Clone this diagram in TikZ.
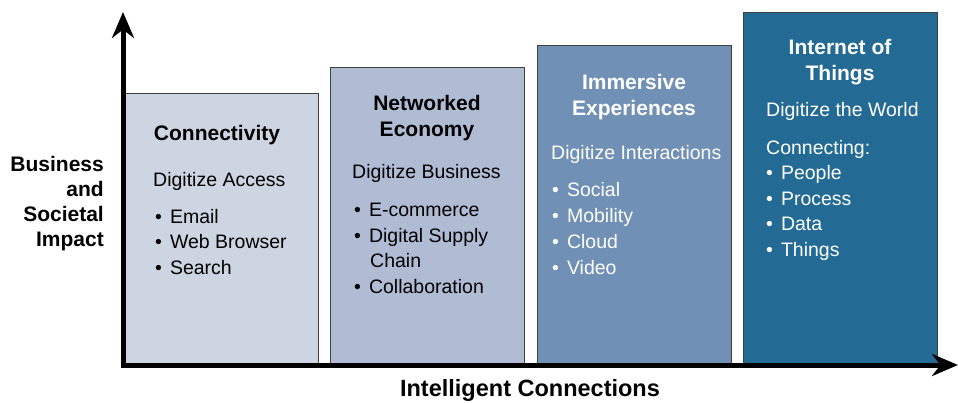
\documentclass[tikz,border=0pt]{standalone}
\usepackage{fontspec}
\setmainfont{Liberation Sans}
\usetikzlibrary{arrows.meta}
\definecolor{cA}{HTML}{CDD5E2}
\definecolor{cB}{HTML}{B0BCD4}
\definecolor{cC}{HTML}{7090B5}
\definecolor{cD}{HTML}{236A94}
\tikzset{
  ttl/.style={font=\fontsize{21}{25.5}\selectfont\bfseries, align=center},
  txt/.style={font=\fontsize{19.5}{25}\selectfont, anchor=base west, inner sep=0pt},
  axis/.style={line width=5pt, -{Stealth[length=26pt,width=22pt]}},
}
\newcommand{\bul}{\textbullet\hspace{8pt}}
\begin{document}
\begin{tikzpicture}[x=1pt,y=-1pt]
\useasboundingbox (0,0) rectangle (958,403);
% boxes
\fill[cA, draw=black!75, line width=1pt] (125,94) rectangle (318,363);
\fill[cB, draw=black!75, line width=1pt] (330,68) rectangle (524,363);
\fill[cC, draw=black!75, line width=1pt] (537,46) rectangle (731,363);
\fill[cD, draw=black!75, line width=1pt] (743,13) rectangle (937,363);
% axes
\coordinate (ytop) at (123,12);
\coordinate (xend) at (958,365);
\draw[axis] (123,367.5) -- (ytop);
\draw[axis] (120.5,365) -- (xend);
% box 1
\node[ttl] (t1) at (217,135) {Connectivity};
\node[txt] (d1) at (153,187) {Digitize Access};
\node[txt] (b11) at (155,224) {\bul Email};
\node[txt] (b12) at (155,249) {\bul Web Browser};
\node[txt] (b13) at (155,275) {\bul Search};
% box 2
\node[ttl] (t2) at (427,118) {Networked\\Economy};
\node[txt] (d2) at (352,179) {Digitize Business};
\node[txt] (b21) at (354,217) {\bul E-commerce};
\node[txt] (b22) at (354,243) {\bul Digital Supply};
\node[txt] (b22b) at (370,268) {Chain};
\node[txt] (b23) at (354,294) {\bul Collaboration};
% box 3
\node[ttl, text=white] (t3) at (634,97) {Immersive\\Experiences};
\node[txt, text=white] (d3) at (551,160) {Digitize Interactions};
\node[txt, text=white] (b31) at (552,197) {\bul Social};
\node[txt, text=white] (b32) at (552,223) {\bul Mobility};
\node[txt, text=white] (b33) at (552,249) {\bul Cloud};
\node[txt, text=white] (b34) at (552,275) {\bul Video};
% box 4
\node[ttl, text=white] (t4) at (840,62) {Internet of\\Things};
\node[txt, text=white] (d4) at (766,117) {Digitize the World};
\node[txt, text=white] (c4) at (766,155) {Connecting:};
\node[txt, text=white] (b41) at (766,180) {\bul People};
\node[txt, text=white] (b42) at (766,206) {\bul Process};
\node[txt, text=white] (b43) at (766,231) {\bul Data};
\node[txt, text=white] (b44) at (766,257) {\bul Things};
% axis labels
\node[font=\fontsize{21}{25}\selectfont\bfseries, align=right, anchor=east, inner sep=0pt] (ylab) at (104,204) {Business\\and\\Societal\\Impact};
\node[font=\fontsize{23.5}{25}\selectfont\bfseries] (xlab) at (530,390) {Intelligent Connections};
\end{tikzpicture}
\end{document}
